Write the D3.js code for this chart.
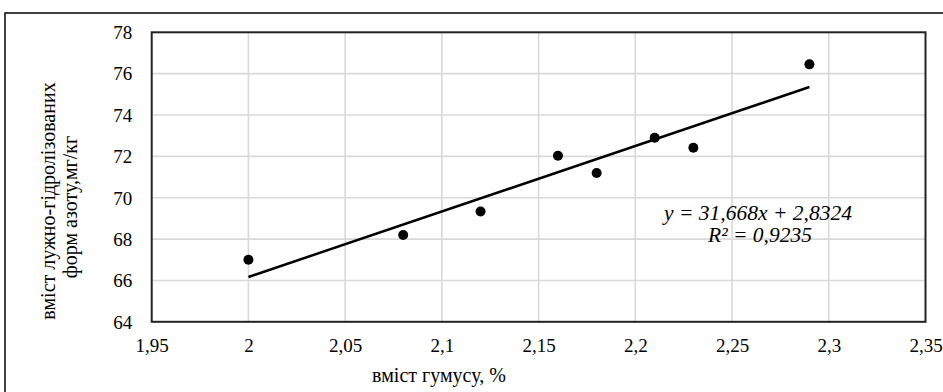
<!DOCTYPE html>
<html><head><meta charset="utf-8">
<script src="https://cdn.jsdelivr.net/npm/d3@7"></script>
<style>
html,body{margin:0;padding:0;background:#fff;}
svg{display:block;}
svg text{font-family:"Liberation Serif","DejaVu Serif",serif !important;fill:#000;}
</style></head>
<body>
<svg id="chart" width="943" height="392" font-family="Liberation Serif, serif"></svg>
<script>
const humus = [2.00, 2.08, 2.12, 2.16, 2.18, 2.21, 2.23, 2.29];
const nitrogen = [67.0, 68.2, 69.33, 72.03, 71.2, 72.9, 72.42, 76.45];
const xTicks = [1.95, 2.00, 2.05, 2.10, 2.15, 2.20, 2.25, 2.30, 2.35];
const yTicks = [64, 66, 68, 70, 72, 74, 76, 78];
const slope = 31.668, intercept = 2.8324, r2 = "0,9235";
const xTitle = "вміст гумусу, %";
const yTitle = ["вміст лужно-гідролізованих", "форм азоту,мг/кг"];

const svg = d3.select("#chart");
const pLeft = 151.7, pRight = 925.5, pTop = 32.3, pBottom = 321.8;
const x = d3.scaleLinear().domain([1.95, 2.35]).range([pLeft, pRight]);
const y = d3.scaleLinear().domain([64, 78]).range([pBottom, pTop]);
const fmt = v => String(+v.toFixed(2)).replace(".", ",");

// outer frame
svg.append("rect").attr("x", 5).attr("y", 13).attr("width", 960).attr("height", 420)
  .attr("fill", "none").attr("stroke", "#111").attr("stroke-width", 1.6);

// gridlines
svg.append("g").selectAll("line").data(xTicks.slice(1, -1)).join("line")
  .attr("x1", d => x(d)).attr("x2", d => x(d)).attr("y1", pTop).attr("y2", pBottom)
  .attr("stroke", "#d9d9d9").attr("stroke-width", 1.6);
svg.append("g").selectAll("line").data(yTicks.slice(1, -1)).join("line")
  .attr("x1", pLeft).attr("x2", pRight).attr("y1", d => y(d)).attr("y2", d => y(d))
  .attr("stroke", "#d9d9d9").attr("stroke-width", 1.6);

// plot border
svg.append("rect").attr("x", pLeft).attr("y", pTop).attr("width", pRight - pLeft).attr("height", pBottom - pTop)
  .attr("fill", "none").attr("stroke", "#222").attr("stroke-width", 2);

// axes labels via d3 axes
const xAxis = d3.axisBottom(x).tickValues(xTicks).tickFormat(fmt).tickSize(0).tickPadding(0);
const gx = svg.append("g").attr("transform", `translate(0,${pBottom})`).call(xAxis)
  .attr("font-family", null);
gx.select(".domain").remove();
gx.selectAll("text").attr("font-size", 19).attr("dy", null).attr("y", 30).attr("fill", "#000");

const yAxis = d3.axisLeft(y).tickValues(yTicks).tickFormat(d => d).tickSize(0).tickPadding(0);
const gy = svg.append("g").attr("transform", `translate(${pLeft},0)`).call(yAxis)
  .attr("font-family", null);
gy.select(".domain").remove();
gy.selectAll("text").attr("font-size", 19).attr("x", -19.5).attr("dy", "0.33em").attr("fill", "#000");

// trendline
const xs = [d3.min(humus), d3.max(humus)];
svg.append("line")
  .attr("x1", x(xs[0])).attr("y1", y(slope * xs[0] + intercept))
  .attr("x2", x(xs[1])).attr("y2", y(slope * xs[1] + intercept))
  .attr("stroke", "#000").attr("stroke-width", 2.5);

// points
svg.append("g").selectAll("circle").data(humus.map((h, i) => [h, nitrogen[i]])).join("circle")
  .attr("cx", d => x(d[0])).attr("cy", d => y(d[1])).attr("r", 5).attr("fill", "#000");

// equation
const eq = svg.append("text").attr("font-style", "italic").attr("font-size", 21.5)
  .attr("text-anchor", "middle");
eq.append("tspan").attr("x", 758).attr("y", 220).text(`y = ${String(slope).replace(".", ",")}x + ${String(intercept).replace(".", ",")}`);
eq.append("tspan").attr("x", 760).attr("y", 242).text(`R² = ${r2}`);

// axis titles
svg.append("text").attr("x", 439).attr("y", 382).attr("text-anchor", "middle")
  .attr("font-size", 20).text(xTitle);
const yt = svg.append("text").attr("transform", "translate(0,203) rotate(-90)")
  .attr("text-anchor", "middle").attr("font-size", 20);
yt.append("tspan").attr("x", 2).attr("y", 55).text(yTitle[0]);
yt.append("tspan").attr("x", -4).attr("y", 77).text(yTitle[1]);
</script>
</body></html>
